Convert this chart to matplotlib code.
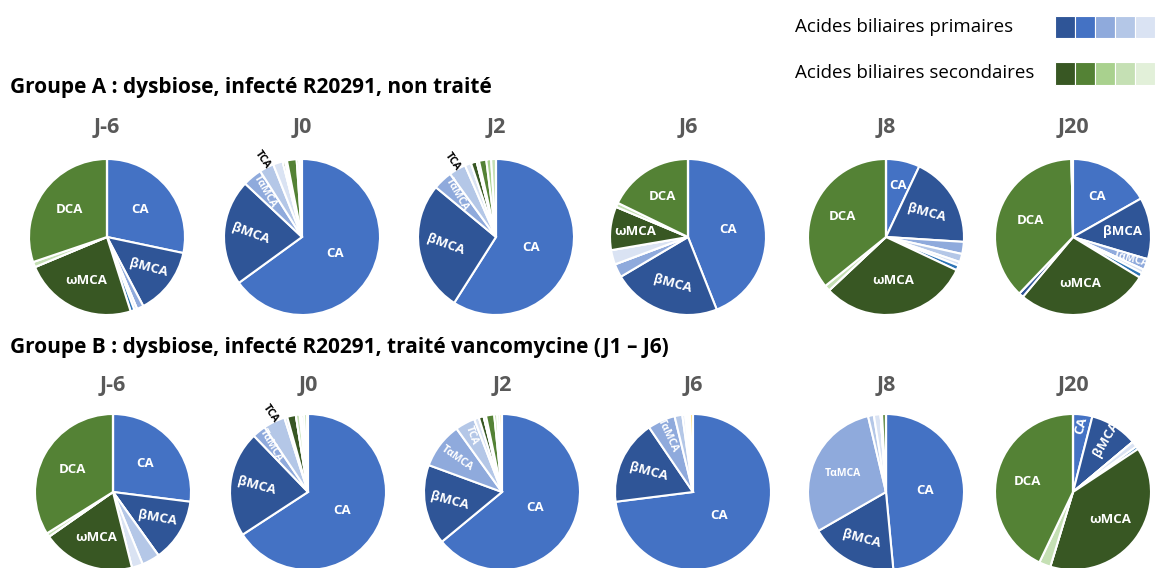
import matplotlib
matplotlib.use('Agg')
import matplotlib.pyplot as plt
from matplotlib.patches import Rectangle
import numpy as np

plt.rcParams['font.family'] = ['Open Sans', 'DejaVu Sans']

# acides biliaires, dans l'ordre des secteurs (sens horaire depuis midi)
categories = ['CA', 'βMCA', 'TαMCA', 'TCA', 'TβMCA', 'CDCA', 'ωMCA', 'αMCA',
              'HDCA', 'DCA', 'LCA', 'UDCA', 'autres']
couleurs = ['#4472C4', '#2F5597', '#8FAADC', '#B4C7E7', '#DAE3F3', '#2E75B6',
            '#385723', '#2F5597', '#C5E0B4', '#548235', '#A9D18E', '#C5E0B4',
            '#FFD966']

jours = ['J-6', 'J0', 'J2', 'J6', 'J8', 'J20']

# % de chaque acide biliaire, groupe A (non traité)
groupe_a = [
    [28.3, 14.0, 1.4, 0, 0.6, 0.8, 23.6, 0, 1.1, 30.2, 0, 0, 0],
    [65.0, 22.0, 4.0, 3.0, 2.0, 0, 0.5, 0, 0.4, 2.0, 0.5, 0.3, 0.3],
    [59.0, 27.0, 4.0, 3.5, 1.3, 0, 1.2, 0, 0.5, 1.5, 1.0, 1.0, 0],
    [44.0, 22.5, 2.8, 0, 3.0, 0, 9.0, 0, 0.9, 17.8, 0, 0, 0],
    [7.0, 19.0, 2.5, 1.7, 0.8, 1.0, 31.0, 0, 1.2, 35.8, 0, 0, 0],
    [16.8, 12.8, 2.3, 0, 0.8, 1.0, 27.4, 1.0, 0, 37.6, 0, 0, 0.3],
]

# % de chaque acide biliaire, groupe B (vancomycine J1 - J6)
groupe_b = [
    [27.0, 13.1, 0, 3.7, 2.3, 0, 19.2, 0, 0.8, 33.9, 0, 0, 0],
    [65.8, 22.0, 2.8, 4.5, 0.6, 0, 1.8, 0, 0.8, 0.4, 0.5, 0.6, 0.2],
    [64.0, 16.6, 9.5, 4.1, 1.0, 0, 1.0, 0, 0.5, 1.7, 0.6, 0.5, 0.5],
    [73.0, 17.5, 5.7, 1.6, 0.6, 0, 0.3, 0, 0, 0.4, 0, 0.3, 0.6],
    [48.5, 18.2, 29.6, 1.2, 1.4, 0, 0, 0, 0.3, 0.8, 0, 0, 0],
    [4.0, 9.9, 0, 0, 1.2, 0.6, 39.0, 0, 2.4, 42.9, 0, 0, 0],
]

# étiquettes : acide -> (distance au centre, rotation)
etiquettes_a = [
    {'CA': (0.55, 0), 'βMCA': (0.66, -15), 'ωMCA': (0.62, 0), 'DCA': (0.6, 0)},
    {'CA': (0.47, 0), 'βMCA': (0.66, -20), 'TαMCA': (0.75, -60), 'TCA': (1.12, -55)},
    {'CA': (0.47, 0), 'βMCA': (0.66, -20), 'TαMCA': (0.74, -60), 'TCA': (1.12, -55)},
    {'CA': (0.52, 0), 'βMCA': (0.63, -15), 'ωMCA': (0.68, 0), 'DCA': (0.62, 0)},
    {'CA': (0.68, 0), 'βMCA': (0.6, -15), 'ωMCA': (0.56, 0), 'DCA': (0.62, 0)},
    {'CA': (0.6, 0), 'βMCA': (0.64, 0), 'TαMCA': (0.8, -15), 'ωMCA': (0.6, 0), 'DCA': (0.58, 0)},
]
etiquettes_b = [
    {'CA': (0.55, 0), 'βMCA': (0.66, -10), 'ωMCA': (0.62, 0), 'DCA': (0.6, 0)},
    {'CA': (0.5, 0), 'βMCA': (0.66, -15), 'TαMCA': (0.76, -60), 'TCA': (1.12, -55)},
    {'CA': (0.47, 0), 'βMCA': (0.68, -15), 'TαMCA': (0.72, -35), 'TCA': (0.82, -70)},
    {'CA': (0.45, 0), 'βMCA': (0.62, -15), 'TαMCA': (0.8, -65)},
    {'CA': (0.5, 0), 'βMCA': (0.68, -15), 'TαMCA': (0.6, 0)},
    {'CA': (0.86, 75), 'βMCA': (0.8, 60), 'ωMCA': (0.6, 0), 'DCA': (0.6, 0)},
]

W, H = 1155, 568
fig = plt.figure(figsize=(W / 100, H / 100), dpi=100)


def fx(x):
    return x / W


def fy(y):
    return 1 - y / H


def camembert(cx, cy, r, valeurs, etiquettes, titre, ty):
    ax = fig.add_axes([fx(cx - r), fy(cy + r), 2 * r / W, 2 * r / H])
    wedges, _ = ax.pie(valeurs, colors=couleurs, startangle=90, counterclock=False,
                       wedgeprops=dict(edgecolor='white', linewidth=1.5))
    ax.set_xlim(-1, 1)
    ax.set_ylim(-1, 1)
    ax.set_aspect('equal')
    ax.axis('off')
    for nom, (dist, rot) in etiquettes.items():
        w = wedges[categories.index(nom)]
        a = np.deg2rad((w.theta1 + w.theta2) / 2)
        dehors = dist > 1
        petit = nom in ('TαMCA', 'TCA')
        ax.text(dist * np.cos(a), dist * np.sin(a), nom, ha='center', va='center',
                rotation=rot, color='black' if dehors else 'white',
                fontsize=7.5 if petit else 9.5, fontweight='bold', clip_on=False)
    fig.text(fx(cx), fy(ty), titre, ha='center', va='center', fontsize=15.5,
             fontweight='bold', color='#595959')


cx_a = [107, 302, 496, 688, 886, 1073]
cx_b = [113, 308, 502, 693, 886, 1073]
r = 78

for i, j in enumerate(jours):
    camembert(cx_a[i], 237, r, groupe_a[i], etiquettes_a[i], j, 128)
    camembert(cx_b[i], 492, r, groupe_b[i], etiquettes_b[i], j, 385)

fig.text(fx(10), fy(87), 'Groupe A : dysbiose, infecté R20291, non traité',
         fontsize=15, fontweight='bold', va='center', ha='left')
fig.text(fx(10), fy(347), 'Groupe B : dysbiose, infecté R20291, traité vancomycine (J1 – J6)',
         fontsize=15, fontweight='bold', va='center', ha='left')

# légende
primaires = ['#2F5597', '#4472C4', '#8FAADC', '#B4C7E7', '#DAE3F3']
secondaires = ['#385723', '#548235', '#A9D18E', '#C5E0B4', '#E2F0D9']
fig.text(fx(795), fy(27), 'Acides biliaires primaires', fontsize=13.5, va='center', ha='left')
fig.text(fx(795), fy(73), 'Acides biliaires secondaires', fontsize=13.5, va='center', ha='left')
for k in range(5):
    fig.add_artist(Rectangle((fx(1055 + 20 * k), fy(38)), 20 / W, 22 / H,
                             facecolor=primaires[k], edgecolor='white', linewidth=0.8,
                             transform=fig.transFigure))
    fig.add_artist(Rectangle((fx(1055 + 20 * k), fy(85)), 20 / W, 23 / H,
                             facecolor=secondaires[k], edgecolor='white', linewidth=0.8,
                             transform=fig.transFigure))

fig.savefig('out.png', dpi=100, facecolor='white')
